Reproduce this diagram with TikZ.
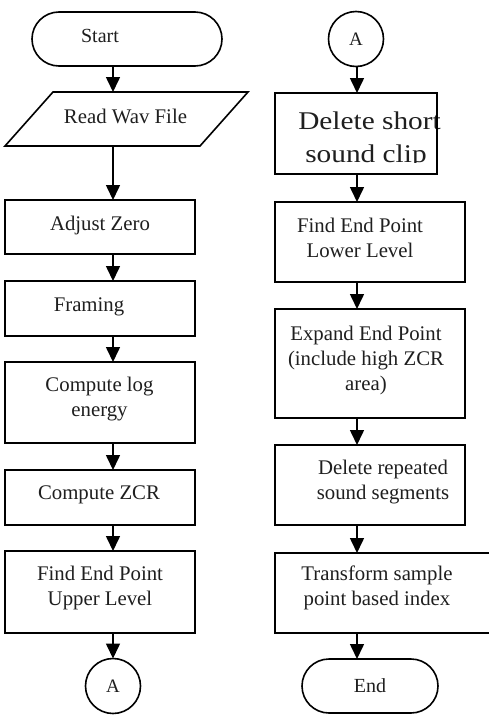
\documentclass[tikz,border=0pt]{standalone}
\usepackage{fontspec}
\setmainfont{Liberation Serif}
\newfontfamily\widefont[FakeStretch=1.15]{Liberation Serif}
\usetikzlibrary{arrows.meta,shapes.misc}
\begin{document}
\begin{tikzpicture}[x=1pt,y=-1pt,
  lw/.style={line width=1.6pt},
  box/.style={draw, lw, rectangle, inner sep=0pt, outer sep=0pt, minimum width=190pt},
  term/.style={draw, lw, rounded rectangle, inner sep=0pt, outer sep=0pt, minimum height=54pt},
  conn/.style={draw, lw, circle, inner sep=0pt, outer sep=0pt, minimum size=55pt,
    text=black!88, font=\fontsize{19}{22}\selectfont},
  txt/.style={align=center, inner sep=0pt, text=black!88, font=\fontsize{20.8}{25}\selectfont},
  arr/.style={lw, -{Triangle[length=15pt,width=14pt]}}
]
\useasboundingbox[fill=white] (0,0) rectangle (489,720);
\coordinate (cL) at (113,0);
\coordinate (cR) at (357,0);

% ---------- left column ----------
\node[term, minimum width=190pt] (start) at (127,39) {};
\node[txt, font=\fontsize{20}{24}\selectfont] (tstart) at (100,36) {Start};

\node[inner sep=0pt, outer sep=0pt, minimum width=243pt, minimum height=54pt] (rw) at (126.5,119) {};
\draw[lw, line join=miter] ([xshift=48pt]rw.north west) -- (rw.north east)
  -- ([xshift=-48pt]rw.south east) -- (rw.south west) -- cycle;
\node[txt] (trw) at (125.5,116.5) {Read Wav File};

\node[box, minimum height=54pt] (adj) at (100,227) {};
\node[txt] (tadj) at (100,225.5) {Adjust Zero};

\node[box, minimum height=55pt] (frm) at (100,308.5) {};
\node[txt] (tfrm) at (89,306.5) {Framing};

\node[box, minimum height=81pt] (cle) at (100,402.5) {};
\node[txt] (tcle) at (99.5,399) {Compute log\\energy};

\node[box, minimum height=55pt] (zcr) at (100,497.5) {};
\node[txt] (tzcr) at (99,495) {Compute ZCR};

\node[box, minimum height=82pt] (fup) at (100,592) {};
\node[txt] (tfup) at (100,588) {Find End Point\\Upper Level};

\node[conn] (aL) at (113,686) {A};

\draw[arr] (start.south -| cL) -- (rw.north -| cL);
\draw[arr] (rw.south -| cL) -- (adj.north -| cL);
\draw[arr] (adj.south -| cL) -- (frm.north -| cL);
\draw[arr] (frm.south -| cL) -- (cle.north -| cL);
\draw[arr] (cle.south -| cL) -- (zcr.north -| cL);
\draw[arr] (zcr.south -| cL) -- (fup.north -| cL);
\draw[arr] (fup.south -| cL) -- (aL.north);

% ---------- right column ----------
\node[conn] (aR) at (356,39) {A};

\begin{scope}
  \clip (280,95) rectangle (460,162.3);
  \node[anchor=base, inner sep=0pt, text=black!88, font=\widefont\fontsize{25.5}{30}\selectfont] (tdsc1) at (369.5,129.3) {Delete short};
  \node[anchor=base, inner sep=0pt, text=black!88, font=\widefont\fontsize{25.5}{30}\selectfont] (tdsc2) at (366,162) {sound clip};
\end{scope}
\node[box, minimum width=162pt, minimum height=81pt] (dsc) at (356,133.5) {};

\node[box, minimum height=80pt] (flo) at (370,242) {};
\node[txt] (tflo) at (360,237.5) {Find End Point\\Lower Level};

\node[box, minimum height=109pt] (exp) at (370,363.5) {};
\node[txt] (texp) at (366,360) {Expand End Point\\(include high ZCR\\area)};

\node[box, minimum height=80pt] (drp) at (370,485) {};
\node[txt] (tdrp) at (383,482) {Delete repeated\\sound segments};

\node[box, minimum width=230pt, minimum height=80pt] (trn) at (390,593) {};
\node[txt] (ttrn) at (377,588) {Transform sample\\point based index};

\node[term, minimum width=136pt] (end) at (370,686) {};
\node[txt, font=\fontsize{20}{24}\selectfont] (tend) at (370,686) {End};

\draw[arr] (aR.south -| cR) -- (dsc.north -| cR);
\draw[arr] (dsc.south -| cR) -- (flo.north -| cR);
\draw[arr] (flo.south -| cR) -- (exp.north -| cR);
\draw[arr] (exp.south -| cR) -- (drp.north -| cR);
\draw[arr] (drp.south -| cR) -- (trn.north -| cR);
\draw[arr] (trn.south -| cR) -- (end.north -| cR);
\end{tikzpicture}
\end{document}
